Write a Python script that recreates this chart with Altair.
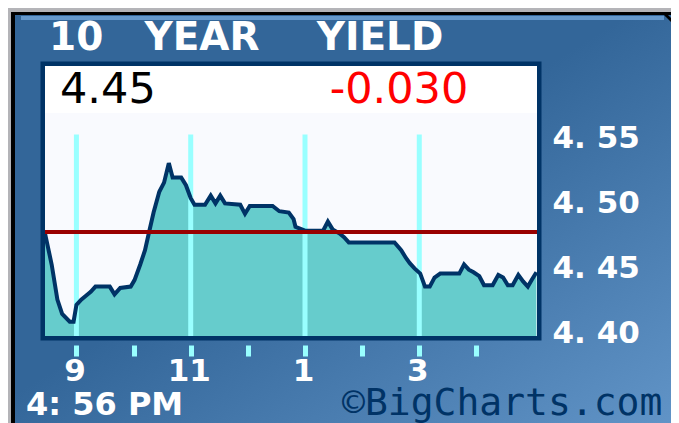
import altair as alt
import pandas as pd

# ---- data ----
times = ["8:27", "8:34", "8:40", "8:45", "8:53", "8:57", "9:00", "9:05", "9:10", "9:15",
         "9:20", "9:35", "9:40", "9:46", "9:57", "10:01", "10:07", "10:12", "10:16", "10:21",
         "10:27", "10:32", "10:37", "10:41", "10:50", "10:55", "11:00", "11:04", "11:15", "11:21",
         "11:26", "11:31", "11:36", "11:52", "11:57", "12:02", "12:26", "12:33", "12:43", "12:48",
         "12:50", "13:00", "13:19", "13:24", "13:29", "13:36", "13:41", "13:46", "14:34", "14:41",
         "14:46", "14:50", "14:55", "15:01", "15:06", "15:11", "15:16", "15:22", "15:42", "15:47",
         "15:52", "15:57", "16:03", "16:08", "16:17", "16:23", "16:28", "16:33", "16:38", "16:44",
         "16:49", "16:54", "16:58", "17:03"]
yields = [4.479, 4.455, 4.428, 4.417, 4.411, 4.411, 4.424, 4.428, 4.431, 4.434,
          4.438, 4.438, 4.432, 4.437, 4.438, 4.443, 4.455, 4.466, 4.479, 4.495,
          4.511, 4.518, 4.533, 4.522, 4.522, 4.516, 4.506, 4.501, 4.501, 4.508,
          4.502, 4.508, 4.502, 4.501, 4.494, 4.500, 4.500, 4.496, 4.495, 4.490,
          4.484, 4.481, 4.481, 4.488, 4.482, 4.479, 4.476, 4.472, 4.472, 4.466,
          4.460, 4.456, 4.452, 4.448, 4.438, 4.438, 4.445, 4.448, 4.448, 4.455,
          4.451, 4.449, 4.446, 4.439, 4.439, 4.447, 4.445, 4.439, 4.439, 4.447,
          4.442, 4.438, 4.443, 4.449]
prev_close = 4.48
last_value = 4.45
net_change = -0.030
hour_ticks = [9, 10, 11, 12, 13, 14, 15, 16]
hour_lines = [9, 11, 13, 15]
y_ticks = [4.40, 4.45, 4.50, 4.55]
title_words = ["10", "YEAR", "YIELD"]
time_stamp = "4: 56 PM"
credit = "\u00a9BigCharts.com"
X_DOMAIN = [8.45, 17.06]
Y_DOMAIN = [4.40, 4.6077]
GRID_TOP = 4.555


def to_hours(t):
    h, m = t.split(":")
    return int(h) + int(m) / 60.0


df = pd.DataFrame({"h": [to_hours(t) for t in times], "y": yields})
lines_df = pd.DataFrame({"h": hour_lines})
one = pd.DataFrame({"k": [0]})

W, H = 492, 270
NAVY = "#003366"

xs = alt.Scale(domain=X_DOMAIN, nice=False, zero=False)
ys = alt.Scale(domain=Y_DOMAIN, nice=False, zero=False)

x_axis = alt.Axis(
    values=hour_ticks,
    labelExpr="datum.value % 2 == 1 ? (datum.value > 12 ? '' + (datum.value - 12) : '' + datum.value) : ''",
    grid=False, domain=False, ticks=True, tickSize=11, tickWidth=5, tickColor="#99ffff",
    offset=9, labelColor="white", labelFont="DejaVu Sans", labelFontSize=31,
    labelFontWeight="bold", labelPadding=0, labelOffset=-2, title=None, zindex=1,
    labelFlush=False, labelOverlap=False,
)
y_axis = alt.Axis(
    orient="right", values=y_ticks,
    labelExpr="replace(format(datum.value, '.2f'), '.', '. ')",
    grid=False, domain=False, ticks=False, labelPadding=15, labelAlign="left",
    labelBaseline="middle", labelOffset=-3, labelColor="white", labelFont="DejaVu Sans",
    labelFontSize=31, labelFontWeight="bold", title=None, zindex=1,
    labelFlush=False, labelOverlap=False,
)

X = alt.X("h:Q", scale=xs, axis=x_axis)
Y = alt.Y("y:Q", scale=ys, axis=y_axis)


def box(x1, x2, y1, y2, **kw):
    return alt.Chart(one).mark_rect(**kw).encode(
        x=alt.value(x1), x2=alt.value(x2), y=alt.value(y1), y2=alt.value(y2))


def label(txt, x, y, **kw):
    return alt.Chart(one).mark_text(baseline="alphabetic", **kw).encode(
        x=alt.value(x), y=alt.value(y), text=alt.value(txt))


frame = box(-34, 700, -54, 400, fill="#000000")
panel = box(-30, 700, -51, 400, fill=alt.LinearGradient(
    gradient="linear", x1=0, y1=0, x2=1, y2=1,
    stops=[alt.GradientStop(color="#336699", offset=0),
           alt.GradientStop(color="#336699", offset=0.42),
           alt.GradientStop(color="#6a9dd0", offset=1)]))
topline = box(-24, 619, -50, -46, fill="#6699cc")
corner = alt.Chart(one).mark_rule(color="#000000", strokeWidth=3).encode(
    x=alt.value(619), x2=alt.value(640), y=alt.value(-53), y2=alt.value(-32))
whitebox = box(-2.25, W + 2.25, -2.25, H + 2.25, fill="#ffffff", stroke=NAVY, strokeWidth=4.5)
plotbg = box(0, W, 47, H, fill="#f9fafe")

area = alt.Chart(df).mark_area(color="#66cccc", opacity=1).encode(
    x=X, y=Y, y2=alt.datum(Y_DOMAIN[0]))
grid = alt.Chart(lines_df).mark_rule(color="#99ffff", strokeWidth=5).encode(
    x=X, y=alt.YDatum(Y_DOMAIN[0], scale=ys, axis=y_axis), y2=alt.datum(GRID_TOP))
line = alt.Chart(df).mark_line(color=NAVY, strokeWidth=4, strokeJoin="miter").encode(x=X, y=Y)
prev = alt.Chart(one).mark_rule(color="#990000", strokeWidth=4).encode(
    y=alt.YDatum(prev_close, scale=ys, axis=y_axis))

title_font = dict(font="DejaVu Sans", fontSize=39, fontWeight="bold", color="white")
t1 = label(title_words[0], 4, -16, align="left", **title_font)
t2 = label(title_words[1], 157, -16, align="center", **title_font)
t3 = label(title_words[2], 335, -16, align="center", **title_font)
v1 = label(f"{last_value:.2f}", 15, 37, align="left", font="DejaVu Sans", fontSize=43, color="#000000")
v2 = label(f"{net_change:.3f}", 354, 37, align="center", font="DejaVu Sans", fontSize=43, color="#ff0000")
ts = label(time_stamp, -19, 349, align="left", font="DejaVu Sans", fontSize=32, fontWeight="bold", color="white")
cr = label(credit, 297, 349, align="left", font="DejaVu Sans Mono", fontSize=38, color=NAVY)

chart = alt.layer(
    frame, panel, topline, corner, whitebox, plotbg,
    area, grid, line, prev,
    t1, t2, t3, v1, v2, ts, cr,
).properties(
    width=W, height=H, background="#b4b4b8",
    padding={"left": 37, "top": 58, "right": 134, "bottom": 87},
    autosize=alt.AutoSizeParams(type="none"),
).configure_view(stroke=None)

chart.save("out.html", embed_options={"renderer": "svg", "actions": False})
